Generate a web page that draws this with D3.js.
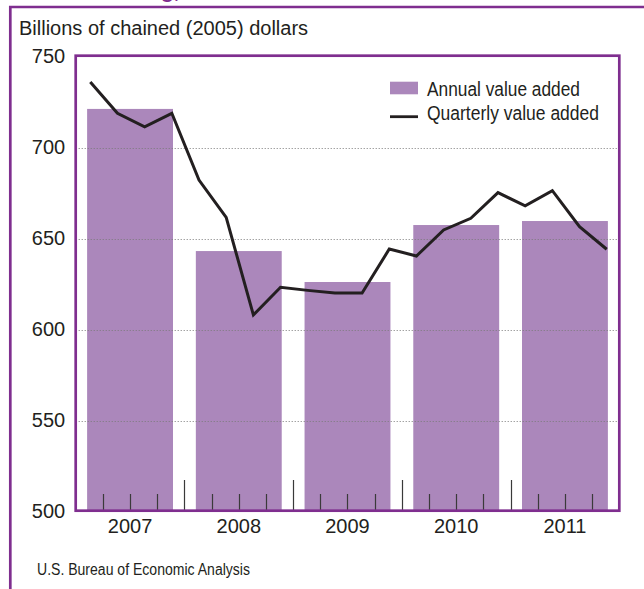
<!DOCTYPE html>
<html>
<head>
<meta charset="utf-8">
<script src="https://cdn.jsdelivr.net/npm/d3@7"></script>
<style>
  html, body { margin: 0; padding: 0; background: #fff; }
  svg { display: block; }
  text { font-family: "Liberation Sans", Arial, Helvetica, sans-serif; fill: #231f20; }
</style>
</head>
<body>
<svg id="chart" width="644" height="589"></svg>
<script>
// Manufacturing value added, billions of chained (2005) dollars
const years = ["2007", "2008", "2009", "2010", "2011"];
const annualValue = [721.2, 643.1, 626.1, 657.4, 659.6];
const quarterlyValue = [
  736.0, 718.8, 711.4, 718.8,
  682.1, 661.6, 608.0, 623.2,
  621.5, 620.1, 620.0, 644.2,
  640.4, 654.7, 661.1, 675.2,
  667.9, 676.3, 656.5, 644.1
];
const yTicks = [500, 550, 600, 650, 700, 750];
const gridValues = [550, 600, 650, 700];
const legendLabels = ["Annual value added", "Quarterly value added"];
const yTitle = "Billions of chained (2005) dollars";
const sourceNote = "U.S. Bureau of Economic Analysis";

const purple = "#7f2e8f";
const barFill = "#ab87bb";
const ink = "#231f20";

const svg = d3.select("#chart");

const plot = { left: 75.7, right: 619.3, top: 55.7, bottom: 510.7 };

const y = d3.scaleLinear().domain([500, 750]).range([511.5, 56.5]);
const x = d3.scaleBand().domain(years).range([plot.left, plot.right])
  .paddingInner(0.21).paddingOuter(0.105);
const xYear = d3.scaleBand().domain(years).range([plot.left, plot.right]);
const xq = d3.scaleBand().domain(d3.range(quarterlyValue.length)).range([plot.left, plot.right]);

// outer panel frame (left and top edges)
svg.append("path")
  .attr("d", `M10.3,${589} V7 H644`)
  .attr("fill", "none").attr("stroke", purple).attr("stroke-width", 2.7);

// descender of the heading line above the panel
svg.append("text")
  .attr("x", 161).attr("y", -1.6)
  .style("font-size", "21px").style("font-weight", "bold").style("fill", purple)
  .text("g,");

// axis title
svg.append("text")
  .attr("x", 19).attr("y", 35)
  .style("font-size", "20px")
  .text(yTitle);

// annual bars
svg.append("g").selectAll("rect")
  .data(years)
  .join("rect")
  .attr("x", d => x(d))
  .attr("width", x.bandwidth())
  .attr("y", (d, i) => y(annualValue[i]))
  .attr("height", (d, i) => y(500) - y(annualValue[i]))
  .attr("fill", barFill);

// dotted gridlines
svg.append("g").selectAll("line")
  .data(gridValues)
  .join("line")
  .attr("x1", plot.left).attr("x2", plot.right)
  .attr("y1", d => Math.round(y(d)) + 0.5)
  .attr("y2", d => Math.round(y(d)) + 0.5)
  .attr("stroke", "#7a7a7a").attr("stroke-width", 1)
  .attr("stroke-dasharray", "1 2");

// quarter and year boundary ticks along the baseline
const boundaries = d3.range(1, quarterlyValue.length);
svg.append("g").selectAll("line")
  .data(boundaries)
  .join("line")
  .attr("x1", d => Math.round(xq(d)) + 0.5)
  .attr("x2", d => Math.round(xq(d)) + 0.5)
  .attr("y1", d => d % 4 === 0 ? 480 : 494)
  .attr("y2", plot.bottom)
  .attr("stroke", "#3a3a3a").attr("stroke-width", 1.2);

// quarterly line
const line = d3.line()
  .x((d, i) => xq(i) + xq.bandwidth() / 2 + 1)
  .y(d => y(d));
svg.append("path")
  .datum(quarterlyValue)
  .attr("d", line)
  .attr("fill", "none")
  .attr("stroke", ink)
  .attr("stroke-width", 3)
  .attr("stroke-linejoin", "miter");

// plot frame
svg.append("rect")
  .attr("x", plot.left).attr("y", plot.top)
  .attr("width", plot.right - plot.left).attr("height", plot.bottom - plot.top)
  .attr("fill", "none").attr("stroke", purple).attr("stroke-width", 2.7);

// y axis labels
const yAxis = svg.append("g")
  .attr("transform", `translate(${plot.left},0)`)
  .call(d3.axisLeft(y).tickValues(yTicks).tickSize(0).tickPadding(10.5).tickFormat(d3.format("d")));
yAxis.select(".domain").remove();
yAxis.selectAll("text").style("font-size", "20px").style("fill", ink)
  .style("font-family", "'Liberation Sans', Arial, sans-serif");

// x axis labels
const xAxis = svg.append("g")
  .attr("transform", `translate(0,${plot.bottom})`)
  .call(d3.axisBottom(xYear).tickSize(0).tickPadding(8));
xAxis.select(".domain").remove();
xAxis.selectAll("text").style("font-size", "20px").style("fill", ink)
  .style("font-family", "'Liberation Sans', Arial, sans-serif");

// legend
const legend = svg.append("g");
legend.append("rect")
  .attr("x", 390).attr("y", 81.7).attr("width", 28).attr("height", 12.6)
  .attr("fill", barFill);
legend.append("line")
  .attr("x1", 390).attr("x2", 418).attr("y1", 116.7).attr("y2", 116.7)
  .attr("stroke", ink).attr("stroke-width", 2.8);
legend.selectAll("text.lbl")
  .data(legendLabels)
  .join("text")
  .attr("class", "lbl")
  .attr("x", 427)
  .attr("y", (d, i) => i === 0 ? 96 : 119.5)
  .attr("textLength", (d, i) => i === 0 ? 153 : 172)
  .attr("lengthAdjust", "spacingAndGlyphs")
  .style("font-size", "20px")
  .text(d => d);

// source note
svg.append("text")
  .attr("x", 37).attr("y", 575)
  .attr("textLength", 213)
  .attr("lengthAdjust", "spacingAndGlyphs")
  .style("font-size", "16px")
  .text(sourceNote);
</script>
</body>
</html>
